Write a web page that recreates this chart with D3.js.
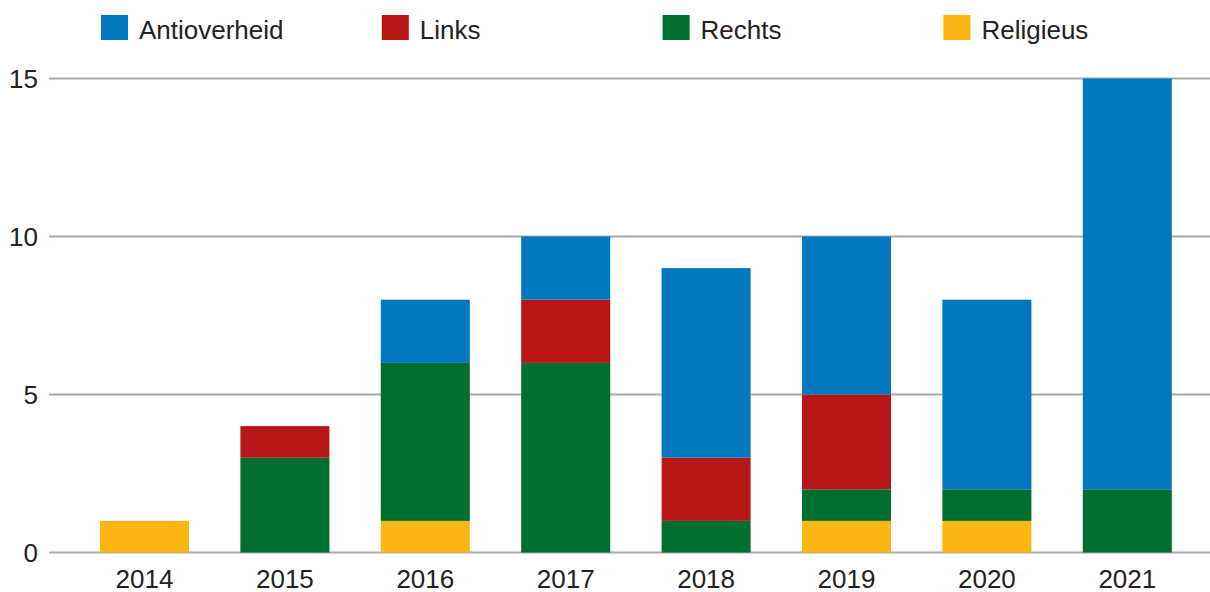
<!DOCTYPE html>
<html>
<head>
<meta charset="utf-8">
<script src="https://cdn.jsdelivr.net/npm/d3@7"></script>
<style>
  body { margin: 0; background: #fff; }
  text { font-family: "Liberation Sans", Arial, sans-serif; fill: #222; }
</style>
</head>
<body>
<div id="canvas"></div>
<script>
"use strict";

/* Data */
let years = ["2014", "2015", "2016", "2017", "2018", "2019", "2020", "2021"];
let antioverheid = [0, 0, 2, 2, 6, 5, 6, 13];
let links = [0, 1, 0, 2, 2, 3, 0, 0];
let rechts = [0, 3, 5, 6, 1, 1, 1, 2];
let religieus = [1, 0, 1, 0, 0, 1, 1, 0];
let yTicks = [0, 5, 10, 15];

let seriesNames = ["Antioverheid", "Links", "Rechts", "Religieus"];
let seriesColors = ["#0079c1", "#b81616", "#006e2e", "#fbb612"];

/* Drawing config */
let svgWidth = 1210;
let svgHeight = 592;

let svg = d3.select("#canvas")
  .append("svg")
  .attr("width", svgWidth)
  .attr("height", svgHeight);

/* Build table for stacking */
let table = years.map((y, i) => ({
  year: y,
  Antioverheid: antioverheid[i],
  Links: links[i],
  Rechts: rechts[i],
  Religieus: religieus[i]
}));

// bottom to top: Religieus, Rechts, Links, Antioverheid
let stackOrder = ["Religieus", "Rechts", "Links", "Antioverheid"];
let stacked = d3.stack().keys(stackOrder)(table);

let xScale = d3.scaleBand()
  .domain(years)
  .range([74.3, 1197.5])
  .paddingInner(0.366)
  .paddingOuter(0.183);

let yScale = d3.scaleLinear()
  .domain([0, 15])
  .range([552.5, 78.5]);

let color = d3.scaleOrdinal().domain(seriesNames).range(seriesColors);

/* Gridlines */
svg.append("g")
  .selectAll("line")
  .data(yTicks)
  .enter()
  .append("line")
  .attr("x1", 49)
  .attr("x2", svgWidth)
  .attr("y1", d => yScale(d))
  .attr("y2", d => yScale(d))
  .attr("stroke", "#aaaaaa")
  .attr("stroke-width", 2);

/* Y tick labels */
svg.append("g")
  .selectAll("text")
  .data(yTicks)
  .enter()
  .append("text")
  .attr("x", 38)
  .attr("y", d => yScale(d))
  .attr("dy", "0.36em")
  .attr("text-anchor", "end")
  .attr("font-size", "26px")
  .text(d => String(d));

/* Bars */
svg.append("g")
  .selectAll("g")
  .data(stacked)
  .enter()
  .append("g")
  .attr("fill", d => color(d.key))
  .selectAll("rect")
  .data(d => d)
  .enter()
  .append("rect")
  .attr("x", d => xScale(d.data.year))
  .attr("width", xScale.bandwidth())
  .attr("y", d => yScale(d[1]))
  .attr("height", d => yScale(d[0]) - yScale(d[1]));

/* X labels */
svg.append("g")
  .selectAll("text")
  .data(years)
  .enter()
  .append("text")
  .attr("x", d => xScale(d) + xScale.bandwidth() / 2)
  .attr("y", 588)
  .attr("text-anchor", "middle")
  .attr("font-size", "26px")
  .text(d => d);

/* Legend */
let legend = svg.append("g")
  .selectAll("g")
  .data(seriesNames)
  .enter()
  .append("g")
  .attr("transform", (d, i) => "translate(" + (xScale(years[i * 2]) + 1) + ",15)");

legend.append("rect")
  .attr("width", 27)
  .attr("height", 25)
  .attr("fill", d => color(d));

legend.append("text")
  .attr("x", 38)
  .attr("y", 24)
  .attr("font-size", "26px")
  .text(d => d);
</script>
</body>
</html>
